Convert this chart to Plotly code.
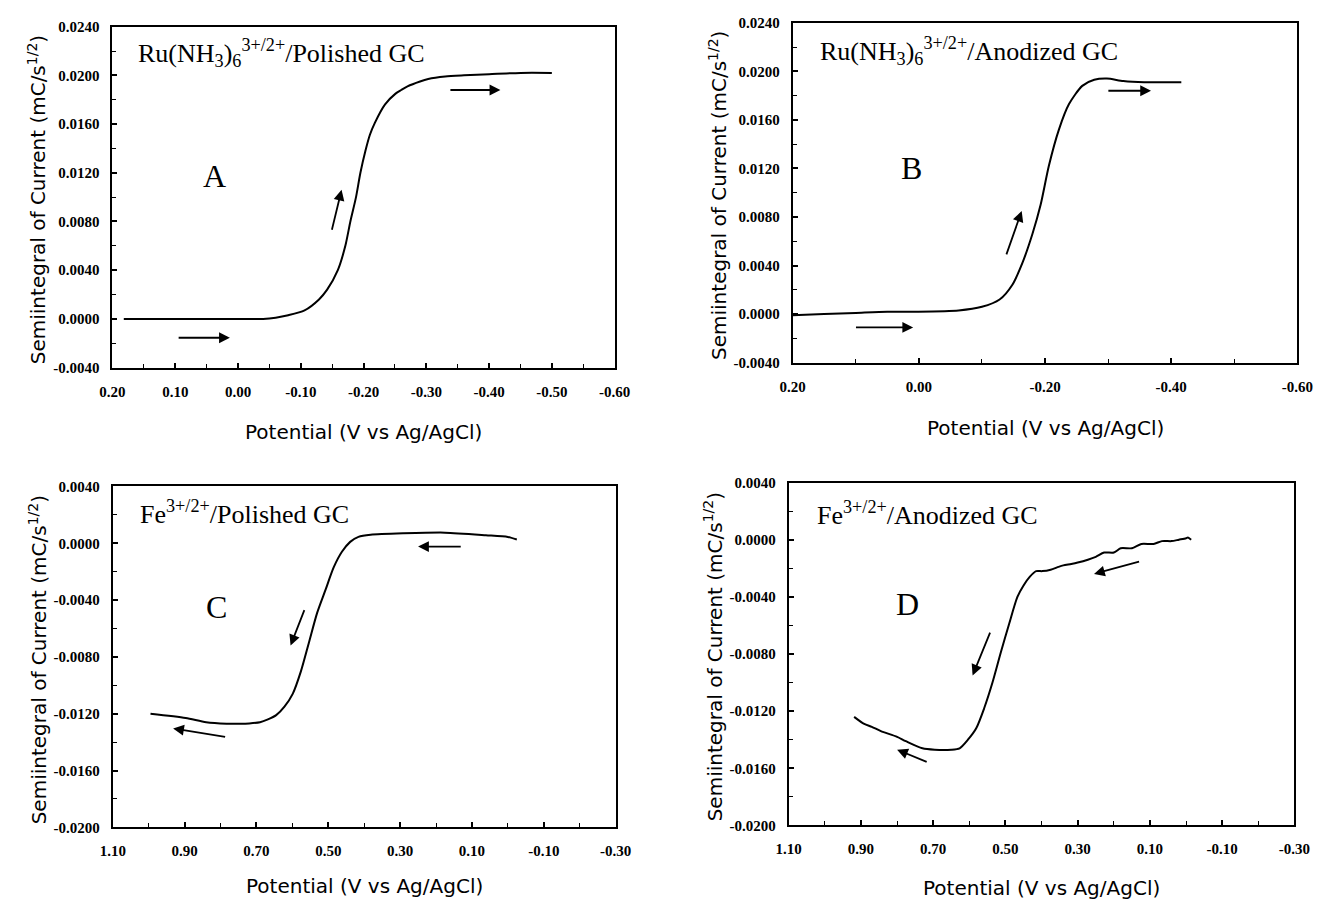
import plotly.graph_objects as go

W, H = 1332, 913

# ---------------- data ----------------
# Panel A: Ru(NH3)6 3+/2+ / Polished GC
a_pot = [0.182, 0.15, 0.10, 0.05, 0.00, -0.04, -0.06, -0.08, -0.106, -0.129, -0.142, -0.159,
         -0.171, -0.179, -0.188, -0.195, -0.203, -0.210, -0.218, -0.234, -0.251, -0.26, -0.27,
         -0.29, -0.303, -0.33, -0.36, -0.40, -0.45, -0.50]
a_cur = [0.0000, 0.0000, 0.0000, 0.0000, 0.0000, 0.0000, 0.0001, 0.0003, 0.0007, 0.0016,
         0.0024, 0.0040, 0.0060, 0.0080, 0.0100, 0.0120, 0.0138, 0.0151, 0.0161, 0.0176, 0.0185,
         0.0188, 0.0191, 0.0195, 0.0197, 0.0199, 0.0200, 0.0201, 0.0202, 0.0202]

# Panel B: Ru(NH3)6 3+/2+ / Anodized GC
b_pot = [0.20, 0.15, 0.10, 0.05, 0.003, -0.063, -0.10, -0.128, -0.148, -0.164, -0.180,
         -0.193, -0.206, -0.222, -0.238, -0.259, -0.278, -0.298, -0.324, -0.357, -0.416]
b_cur = [-0.0001, 0.0000, 0.0001, 0.0002, 0.0002, 0.0003, 0.0006, 0.0012, 0.0024, 0.0042,
         0.0066, 0.0090, 0.0122, 0.0152, 0.0173, 0.0188, 0.0193, 0.0194, 0.0192, 0.0191, 0.0191]

# Panel C: Fe 3+/2+ / Polished GC
c_pot = [-0.025, 0.00, 0.061, 0.175, 0.29, 0.382, 0.416, 0.439, 0.462, 0.485, 0.508, 0.531,
         0.554, 0.576, 0.599, 0.622, 0.645, 0.668, 0.690, 0.720, 0.748, 0.783, 0.840, 0.897, 0.995]
c_cur = [0.00027, 0.00045, 0.00057, 0.00075, 0.0007, 0.0006, 0.00045, 0.0001, -0.0006,
         -0.0017, -0.0033, -0.0049, -0.0070, -0.0090, -0.0106, -0.0115, -0.0121, -0.0124,
         -0.0126, -0.01268, -0.0127, -0.0127, -0.0126, -0.0123, -0.0120]

# Panel D: Fe 3+/2+ / Anodized GC
d_pot = [-0.014, -0.005, 0.000, 0.02, 0.04, 0.067, 0.09, 0.124, 0.15, 0.181, 0.20, 0.227,
         0.25, 0.272, 0.30, 0.318, 0.34, 0.353, 0.375, 0.398, 0.415, 0.433, 0.450, 0.467,
         0.490, 0.513, 0.536, 0.559, 0.581, 0.604, 0.627, 0.650, 0.696, 0.730, 0.776,
         0.80, 0.845, 0.87, 0.891, 0.919]
d_cur = [0.00000, 0.00015, 0.0001, 0.0000, -0.0001, -0.0001, -0.0003, -0.0003, -0.0006,
         -0.0006, -0.0009, -0.0009, -0.0012, -0.0014, -0.0016, -0.0017, -0.0018, -0.0019,
         -0.0021, -0.0022, -0.0022, -0.0026, -0.0032, -0.0040, -0.0059, -0.0079, -0.0100,
         -0.0118, -0.0132, -0.0140, -0.0146, -0.0147, -0.0147, -0.0146, -0.0141, -0.0138,
         -0.0134, -0.0131, -0.0129, -0.0124]

# arrows: (tail_x, tail_y, head_x, head_y)
a_arrows = [(0.097, -0.00155, 0.013, -0.00155), (-0.149, 0.0072, -0.165, 0.0106),
            (-0.336, 0.0188, -0.418, 0.0188)]
b_arrows = [(0.102, -0.0011, 0.009, -0.0011), (-0.138, 0.0048, -0.163, 0.0085),
            (-0.298, 0.0184, -0.368, 0.0184)]
c_arrows = [(0.127, -0.00023, 0.25, -0.00023), (0.565, -0.0046, 0.605, -0.0072),
            (0.783, -0.01365, 0.932, -0.01303)]
d_arrows = [(0.126, -0.0015, 0.255, -0.0024), (0.541, -0.0064, 0.591, -0.0095),
            (0.714, -0.0156, 0.80, -0.0147)]

a_label = "Ru(NH<sub>3</sub>)<sub>6</sub><sup>3+/2+</sup>/Polished GC"
b_label = "Ru(NH<sub>3</sub>)<sub>6</sub><sup>3+/2+</sup>/Anodized GC"
c_label = "Fe<sup>3+/2+</sup>/Polished GC"
d_label = "Fe<sup>3+/2+</sup>/Anodized GC"

ru_y_ticks = [0.024, 0.020, 0.016, 0.012, 0.008, 0.004, 0.0, -0.004]
ru_y_text = ["0.0240", "0.0200", "0.0160", "0.0120", "0.0080", "0.0040", "0.0000", "-0.0040"]
fe_y_ticks = [0.004, 0.0, -0.004, -0.008, -0.012, -0.016, -0.020]
fe_y_text = ["0.0040", "0.0000", "-0.0040", "-0.0080", "-0.0120", "-0.0160", "-0.0200"]
a_x_ticks = [0.20, 0.10, 0.00, -0.10, -0.20, -0.30, -0.40, -0.50, -0.60]
a_x_text = ["0.20", "0.10", "0.00", "-0.10", "-0.20", "-0.30", "-0.40", "-0.50", "-0.60"]
b_x_ticks = [0.20, 0.00, -0.20, -0.40, -0.60]
b_x_text = ["0.20", "0.00", "-0.20", "-0.40", "-0.60"]
fe_x_ticks = [1.10, 0.90, 0.70, 0.50, 0.30, 0.10, -0.10, -0.30]
fe_x_text = ["1.10", "0.90", "0.70", "0.50", "0.30", "0.10", "-0.10", "-0.30"]

x_title = "Potential (V vs Ag/AgCl)"
y_title = "Semiintegral of Current (mC/s<sup>1/2</sup>)"

# ---------------- layout geometry (pixels) ----------------
panels = [
    dict(name="A", box=(101.7, 615, 19, 366), xr=[0.20, -0.60], yr=[-0.004, 0.024],
         xt=a_x_ticks, xtt=a_x_text, xminor=0.05, yt=ru_y_ticks, ytt=ru_y_text,
         pot=a_pot, cur=a_cur, arrows=a_arrows, label=a_label, lab_xy=(0.163, 0.0218),
         letter_xy=(0.038, 0.0117), xt_off=66),
    dict(name="B", box=(797, 1313, 15, 361), xr=[0.20, -0.60], yr=[-0.004, 0.024],
         xt=b_x_ticks, xtt=b_x_text, xminor=0.10, yt=ru_y_ticks, ytt=ru_y_text,
         pot=b_pot, cur=b_cur, arrows=b_arrows, label=b_label, lab_xy=(0.16, 0.0217),
         letter_xy=(0.012, 0.0120), xt_off=67),
    dict(name="C", box=(102, 616, 487, 834), xr=[1.10, -0.30], yr=[-0.020, 0.004],
         xt=fe_x_ticks, xtt=fe_x_text, xminor=0.10, yt=fe_y_ticks, ytt=fe_y_text,
         pot=c_pot, cur=c_cur, arrows=c_arrows, label=c_label, lab_xy=(1.03, 0.0022),
         letter_xy=(0.811, -0.0045), xt_off=60),
    dict(name="D", box=(793, 1310, 483, 832), xr=[1.10, -0.30], yr=[-0.020, 0.004],
         xt=fe_x_ticks, xtt=fe_x_text, xminor=0.10, yt=fe_y_ticks, ytt=fe_y_text,
         pot=d_pot, cur=d_cur, arrows=d_arrows, label=d_label, lab_xy=(1.028, 0.0018),
         letter_xy=(0.77, -0.0045), xt_off=64),
]

fig = go.Figure()
layout = dict(width=W, height=H, margin=dict(l=0, r=0, t=0, b=0),
              paper_bgcolor="white", plot_bgcolor="white", showlegend=False)
annotations = []
tickfont = dict(family="Liberation Serif", size=15, color="black", weight="bold")

for i, p in enumerate(panels):
    n = "" if i == 0 else str(i + 1)
    xa, ya = "x" + n, "y" + n
    x0, x1, y0, y1 = p["box"]
    layout["xaxis" + n] = dict(
        domain=[x0 / W, x1 / W], range=p["xr"], anchor=ya,
        tickmode="array", tickvals=p["xt"], ticktext=p["xtt"],
        ticks="inside", ticklen=5, tickwidth=1.5, tickcolor="black",
        minor=dict(tickmode="linear", tick0=0, dtick=p["xminor"], ticks="inside",
                   ticklen=4, tickwidth=1.2, tickcolor="black"),
        showline=True, linewidth=2, linecolor="black", mirror=True,
        showgrid=False, zeroline=False, tickfont=tickfont, ticklabelstandoff=9)
    layout["yaxis" + n] = dict(
        domain=[1 - y1 / H, 1 - y0 / H], range=p["yr"], anchor=xa,
        tickmode="array", tickvals=p["yt"], ticktext=p["ytt"],
        ticks="inside", ticklen=5, tickwidth=1.5, tickcolor="black",
        minor=dict(tickmode="linear", tick0=0, dtick=0.002, ticks="inside",
                   ticklen=4, tickwidth=1.2, tickcolor="black"),
        showline=True, linewidth=2, linecolor="black", mirror=True,
        showgrid=False, zeroline=False, tickfont=tickfont, ticklabelstandoff=8)
    fig.add_trace(go.Scatter(x=p["pot"], y=p["cur"], mode="lines", xaxis=xa, yaxis=ya,
                             line=dict(color="black", width=2, shape="spline", smoothing=0.7)))
    for (tx, ty, hx, hy) in p["arrows"]:
        annotations.append(dict(x=hx, y=hy, ax=tx, ay=ty, xref=xa, yref=ya,
                                axref=xa, ayref=ya, showarrow=True, text="",
                                arrowhead=2, arrowsize=1.2, arrowwidth=1.8, arrowcolor="black"))
    annotations.append(dict(x=p["lab_xy"][0], y=p["lab_xy"][1], xref=xa, yref=ya,
                            text=p["label"], showarrow=False, xanchor="left", yanchor="middle",
                            font=dict(family="Liberation Serif", size=26, color="black")))
    annotations.append(dict(x=p["letter_xy"][0], y=p["letter_xy"][1], xref=xa, yref=ya,
                            text=p["name"], showarrow=False, xanchor="center", yanchor="middle",
                            font=dict(family="Liberation Serif", size=32, color="black")))
    # axis titles
    xc = (x0 + x1) / 2
    annotations.append(dict(x=xc / W, y=1 - (y1 + p["xt_off"]) / H, xref="paper", yref="paper",
                            text=x_title, showarrow=False, xanchor="center", yanchor="middle",
                            font=dict(family="DejaVu Sans", size=20, color="black")))
    yc = (y0 + y1) / 2 + 3
    annotations.append(dict(x=(x0 - 77) / W, y=1 - yc / H, xref="paper", yref="paper",
                            text=y_title, showarrow=False, textangle=-90,
                            xanchor="center", yanchor="middle",
                            font=dict(family="DejaVu Sans", size=20, color="black")))

layout["annotations"] = annotations
fig.update_layout(**layout)
fig.write_html("out.html", config={"displayModeBar": False},
               post_script="document.body.style.margin='0';")
